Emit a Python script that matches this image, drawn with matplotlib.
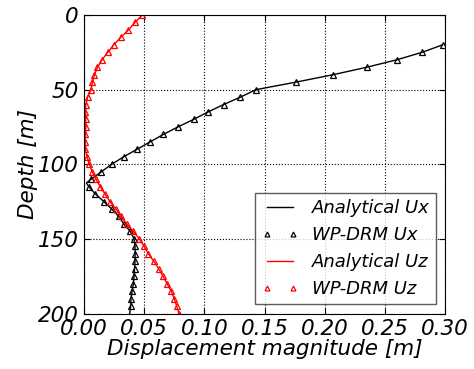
import matplotlib
matplotlib.use("Agg")
import matplotlib.pyplot as plt
import numpy as np

# Data
depth_ux = [20, 25, 30, 35, 40, 45, 50, 55, 60, 65, 70, 75, 80, 85, 90, 95, 100,
            105, 110, 112.5, 115, 120, 125, 130, 135, 140, 145, 150, 155, 160, 165,
            170, 175, 180, 185, 190, 195, 200]
ux = [0.298, 0.281, 0.260, 0.235, 0.207, 0.176, 0.143, 0.130, 0.116, 0.103, 0.091,
      0.078, 0.066, 0.055, 0.044, 0.033, 0.023, 0.0145, 0.006, 0.002, 0.004, 0.0095,
      0.0165, 0.023, 0.029, 0.033, 0.0385, 0.0416, 0.0424, 0.0425, 0.0424, 0.042,
      0.0416, 0.041, 0.040, 0.039, 0.0388, 0.038]

depth_m_ux = [20, 25, 30, 35, 40, 45, 50, 55, 60, 65, 70, 75, 80, 85, 90, 95, 100,
              105, 110, 115, 120, 125, 130, 135, 140, 145, 150, 155, 160, 165, 170,
              175, 180, 185, 190, 195]
ux_m = [0.298, 0.281, 0.260, 0.235, 0.207, 0.176, 0.143, 0.130, 0.116, 0.103, 0.091,
        0.078, 0.066, 0.055, 0.044, 0.033, 0.023, 0.0145, 0.006, 0.004, 0.0095, 0.0165,
        0.023, 0.029, 0.033, 0.0385, 0.0416, 0.0424, 0.0425, 0.0424, 0.042, 0.0416,
        0.041, 0.040, 0.039, 0.0388]

depth_uz = [0, 5, 10, 15, 20, 25, 30, 35, 40, 45, 50, 55, 60, 65, 70, 75, 80, 85,
            90, 95, 100, 105, 110, 115, 120, 125, 130, 135, 140, 145, 150, 155, 160,
            165, 170, 175, 180, 185, 190, 195, 200]
uz = [0.0485, 0.0424, 0.0369, 0.0305, 0.0247, 0.0197, 0.015, 0.0112, 0.0087, 0.007,
      0.0058, 0.003, 0.0015, 0.0012, 0.0015, 0.0015, 0.0012, 0.001, 0.0012, 0.0025,
      0.0045, 0.0068, 0.0100, 0.0135, 0.0175, 0.0216, 0.0266, 0.031, 0.0355, 0.041,
      0.046, 0.050, 0.0535, 0.058, 0.062, 0.0657, 0.069, 0.0725, 0.075, 0.077, 0.079]

xticks = [0.00, 0.05, 0.10, 0.15, 0.20, 0.25, 0.30]
yticks = [0, 50, 100, 150, 200]

plt.rcParams['font.family'] = ['DejaVu Sans']
plt.rcParams['font.style'] = 'italic'
plt.rcParams['mathtext.default'] = 'it'

fig = plt.figure(figsize=(4.74, 3.69), dpi=100)
ax = fig.add_axes([84/474, 1-313.5/369, (445-84)/474, (313.5-15)/369])

ax.plot(ux, depth_ux, '-', color='k', lw=1.0, label='Analytical Ux')
ax.plot(ux_m, depth_m_ux, '^', ls='none', ms=4.5, mfc='none', mec='k', mew=0.9,
        label='WP-DRM Ux')
ax.plot(uz, depth_uz, '-', color='r', lw=1.0, label='Analytical Uz')
ax.plot(uz, depth_uz, '^', ls='none', ms=4.5, mfc='none', mec='r', mew=0.9,
        label='WP-DRM Uz')

ax.set_xlim(0, 0.30)
ax.set_ylim(200, 0)
ax.set_xticks(xticks)
ax.set_yticks(yticks)
ax.set_xticklabels([f"{v:.2f}" for v in xticks], fontsize=15.5, style='italic')
ax.set_yticklabels([str(v) for v in yticks], fontsize=15.5, style='italic')
ax.tick_params(direction='in', top=True, right=True, length=4, pad=4)
ax.grid(True, linestyle=':', color='k', lw=0.8)

ax.set_xlabel('Displacement magnitude [m]', fontsize=15.5, style='italic', labelpad=0)
ax.set_ylabel('Depth [m]', fontsize=15.5, style='italic', labelpad=0)

leg = ax.legend(loc='lower right', numpoints=2, handlelength=2.05,
                handletextpad=0.75, labelspacing=0.5, borderpad=0.35, fancybox=False,
                prop={'style': 'italic', 'size': 13})
leg.get_frame().set_edgecolor('0.2')
leg.get_frame().set_linewidth(1.0)
for h in leg.legend_handles:
    try:
        h.set_markersize(3.5)
    except Exception:
        pass

fig.savefig('out.png', dpi=100)
